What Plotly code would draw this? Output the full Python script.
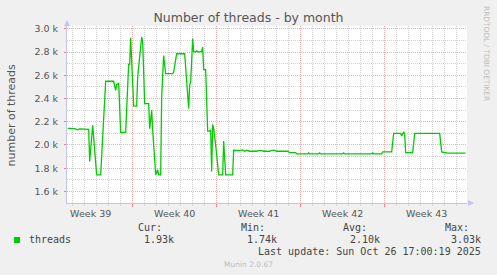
import plotly.graph_objects as go

times = [
    "2025-09-23 14:00", "2025-09-24 04:00", "2025-09-24 10:00", "2025-09-24 14:00",
    "2025-09-25 08:00", "2025-09-25 10:00", "2025-09-25 16:00", "2025-09-25 22:00",
    "2025-09-26 00:00", "2025-09-26 08:00", "2025-09-26 18:00", "2025-09-27 10:00",
    "2025-09-27 14:00", "2025-09-27 16:00", "2025-09-27 20:00", "2025-09-28 00:00",
    "2025-09-28 10:00", "2025-09-28 16:00", "2025-09-28 18:00", "2025-09-28 20:00",
    "2025-09-29 02:00", "2025-09-29 08:00", "2025-09-29 10:00", "2025-09-29 18:00",
    "2025-09-29 20:00", "2025-09-30 00:00", "2025-09-30 08:00", "2025-09-30 10:00",
    "2025-09-30 14:00", "2025-09-30 16:00", "2025-09-30 20:00", "2025-09-30 22:00",
    "2025-10-01 02:00", "2025-10-01 04:00", "2025-10-01 08:00", "2025-10-01 10:00",
    "2025-10-01 14:00", "2025-10-01 18:00", "2025-10-02 08:00", "2025-10-02 10:00",
    "2025-10-02 16:00", "2025-10-03 08:00", "2025-10-03 16:00", "2025-10-03 18:00",
    "2025-10-03 20:00", "2025-10-04 00:00", "2025-10-04 02:00", "2025-10-04 06:00",
    "2025-10-04 08:00", "2025-10-04 12:00", "2025-10-04 18:00", "2025-10-04 20:00",
    "2025-10-04 22:00", "2025-10-05 02:00", "2025-10-05 06:00", "2025-10-05 10:00",
    "2025-10-05 12:00", "2025-10-05 14:00", "2025-10-05 16:00", "2025-10-05 18:00",
    "2025-10-05 22:00", "2025-10-06 04:00", "2025-10-06 12:00", "2025-10-06 14:00",
    "2025-10-06 18:00", "2025-10-07 08:00", "2025-10-07 10:00", "2025-10-07 22:00",
    "2025-10-08 04:00", "2025-10-08 08:00", "2025-10-08 12:00", "2025-10-08 18:00",
    "2025-10-09 08:00", "2025-10-09 12:00", "2025-10-09 18:00", "2025-10-09 22:00",
    "2025-10-10 10:00", "2025-10-10 14:00", "2025-10-10 20:00", "2025-10-11 00:00",
    "2025-10-11 22:00", "2025-10-12 02:00", "2025-10-12 14:00", "2025-10-12 16:00",
    "2025-10-13 14:00", "2025-10-13 16:00", "2025-10-13 18:00", "2025-10-14 12:00",
    "2025-10-14 14:00", "2025-10-14 16:00", "2025-10-16 12:00", "2025-10-16 14:00",
    "2025-10-16 16:00", "2025-10-18 22:00", "2025-10-19 00:00", "2025-10-19 02:00",
    "2025-10-19 18:00", "2025-10-19 20:00", "2025-10-20 14:00", "2025-10-20 18:00",
    "2025-10-21 08:00", "2025-10-21 10:00", "2025-10-21 14:00", "2025-10-21 16:00",
    "2025-10-21 18:00", "2025-10-22 08:00", "2025-10-22 12:00", "2025-10-24 14:00",
    "2025-10-24 18:00", "2025-10-25 04:00", "2025-10-25 06:00", "2025-10-26 18:00",
]
threads = [
    2143, 2140, 2130, 2138,
    2135, 1857, 2170, 1886,
    1743, 1743, 2549, 2549,
    2471, 2520, 2530, 2109,
    2109, 2700, 2690, 2923,
    2334, 2334, 2586, 2930,
    2890, 2357, 2357, 2140,
    2300, 2130, 1800, 1743,
    1786, 1743, 1743, 2414,
    2770, 2614, 2614, 2628,
    2786, 2786, 2314, 2514,
    2543, 2914, 2806, 2800,
    2810, 2800, 2806, 2843,
    2649, 2649, 2120, 2120,
    2130, 1771, 2177, 2143,
    2000, 1743, 1743, 2034,
    1743, 1743, 1954, 1951,
    1957, 1946, 1954, 1946,
    1946, 1951, 1951, 1946,
    1946, 1954, 1954, 1946,
    1946, 1934, 1934, 1923,
    1923, 1931, 1923, 1923,
    1931, 1923, 1923, 1931,
    1923, 1923, 1931, 1923,
    1923, 1940, 1940, 2100,
    2100, 2077, 2114, 2090,
    1934, 1934, 2100, 2100,
    1940, 1934, 1929, 1929,
]

week_labels = ["Week 39", "Week 40", "Week 41", "Week 42", "Week 43"]
week_mids = ["2025-09-25 12:00", "2025-10-02 12:00", "2025-10-09 12:00",
             "2025-10-16 12:00", "2025-10-23 12:00"]
week_starts = ["2025-09-29", "2025-10-06", "2025-10-13", "2025-10-20"]

y_ticks = [1600, 1800, 2000, 2200, 2400, 2600, 2800, 3000]
y_tick_labels = ["1.6\u00a0k", "1.8\u00a0k", "2.0\u00a0k", "2.2\u00a0k",
                 "2.4\u00a0k", "2.6\u00a0k", "2.8\u00a0k", "3.0\u00a0k"]

series_name = "threads"
stat_labels = ["Cur:", "Min:", "Avg:", "Max:"]
stat_values = ["1.93k", "1.74k", "2.10k", "3.03k"]
last_update = "Last update: Sun Oct 26 17:00:19 2025"
title_text = "Number of threads - by month"
ylabel_text = "number of threads"
watermark = "RRDTOOL / TOBI OETIKER"
footer = "Munin 2.0.67"

x_range = ["2025-09-23 12:40", "2025-10-26 20:40"]
y_range = [1500, 3025]

W, H = 497, 275
L, R, T, B = 67, 30, 26, 72
PW, PH = W - L - R, H - T - B

def px(x):
    return (x - L) / PW

def py(y):
    return (H - B - y) / PH

GRID_MINOR = "#d2d2d2"
GRID_MAJOR = "#f2b0b0"
AXIS = "#c4c4f4"
TXT = "#555555"
DASH = "1px,1px"
SANS = "DejaVu Sans"
MONO = "DejaVu Sans Mono"

fig = go.Figure()
fig.add_trace(go.Scatter(x=times, y=threads, mode="lines",
                         line=dict(color="#00cc00", width=1.3),
                         name=series_name, showlegend=False))
fig.add_trace(go.Scatter(x=[x_range[0]], y=[y_range[0]], xaxis="x2",
                         mode="markers", marker=dict(opacity=0),
                         showlegend=False, hoverinfo="skip"))

fig.update_layout(
    width=W, height=H, autosize=False,
    margin=dict(l=L, r=R, t=T, b=B, pad=0),
    paper_bgcolor="#f0f0f0", plot_bgcolor="#ffffff",
    font=dict(family=SANS, size=9.5, color=TXT),
    title=dict(text=title_text, x=0.5, xanchor="center", xref="container",
               y=1 - 18.0 / H, yanchor="middle", yref="container",
               font=dict(family=SANS, size=12.5, color=TXT)),
    xaxis=dict(type="date", range=x_range, tickmode="array",
               tickvals=week_mids, ticktext=week_labels,
               showgrid=False, zeroline=False, ticks="",
               showline=True, linecolor=AXIS, linewidth=1,
               ticklabelstandoff=2,
               tickfont=dict(family=SANS, size=9.5, color=TXT),
               minor=dict(tick0="2025-09-22", dtick=86400000, showgrid=True,
                          gridcolor=GRID_MINOR, griddash=DASH, gridwidth=1,
                          ticks="outside", ticklen=2, tickcolor=GRID_MINOR)),
    xaxis2=dict(type="date", range=x_range, overlaying="x", side="bottom",
                tickmode="array", tickvals=week_starts, showticklabels=False,
                showgrid=True, gridcolor=GRID_MAJOR, griddash=DASH, gridwidth=1,
                ticks="outside", ticklen=3, tickcolor="#f08080",
                zeroline=False, showline=False),
    yaxis=dict(range=y_range, tickmode="array", tickvals=y_ticks,
               ticktext=y_tick_labels, showgrid=True, gridcolor=GRID_MAJOR,
               griddash=DASH, gridwidth=1, zeroline=False,
               showline=True, linecolor=AXIS, linewidth=1,
               ticks="outside", ticklen=2, tickcolor="#f08080",
               ticklabelstandoff=4,
               tickfont=dict(family=SANS, size=9.5, color=TXT),
               minor=dict(dtick=100, tick0=1500, showgrid=True,
                          gridcolor=GRID_MINOR, griddash=DASH, gridwidth=1)),
)

ann = []
# y axis label
ann.append(dict(text=ylabel_text, x=px(11), y=py(114.5), xref="paper", yref="paper",
                showarrow=False, textangle=-90, xanchor="center", yanchor="middle",
                font=dict(family=SANS, size=11, color=TXT)))
# watermark
ann.append(dict(text=watermark, x=px(487), y=py(53), xref="paper", yref="paper",
                showarrow=False, textangle=90, xanchor="center", yanchor="middle",
                font=dict(family=SANS, size=7.4, color="#bdbdbd")))
# axis arrows
ann.append(dict(text="", x=px(474), y=py(203), xref="paper", yref="paper",
                ax=-7, ay=0, axref="pixel", ayref="pixel", showarrow=True,
                arrowhead=2, arrowsize=1.2, arrowwidth=1, arrowcolor=AXIS))
ann.append(dict(text="", x=px(67), y=py(20), xref="paper", yref="paper",
                ax=0, ay=6, axref="pixel", ayref="pixel", showarrow=True,
                arrowhead=2, arrowsize=1.2, arrowwidth=1, arrowcolor=AXIS))
# legend text
mono = dict(family=MONO, size=10, color="#444444")
ann.append(dict(text=series_name, x=px(26.5), y=py(239.5), xref="paper", yref="paper",
                showarrow=False, xanchor="left", yanchor="middle", font=mono))
label_right = [163.5, 266.5, 368.5, 470.5]
value_right = [176, 279, 381.5, 483]
for lab, val, lr, vr in zip(stat_labels, stat_values, label_right, value_right):
    ann.append(dict(text=lab, x=px(lr), y=py(227.5), xref="paper", yref="paper",
                    showarrow=False, xanchor="right", yanchor="middle", font=mono))
    ann.append(dict(text=val, x=px(vr), y=py(239.5), xref="paper", yref="paper",
                    showarrow=False, xanchor="right", yanchor="middle", font=mono))
ann.append(dict(text=last_update, x=px(483), y=py(251.7), xref="paper", yref="paper",
                showarrow=False, xanchor="right", yanchor="middle", font=mono))
ann.append(dict(text=footer, x=px(248), y=py(264), xref="paper", yref="paper",
                showarrow=False, xanchor="center", yanchor="middle",
                font=dict(family=SANS, size=7.5, color="#bdbdbd")))
fig.update_layout(annotations=ann)

# legend colour swatch
fig.add_shape(type="rect", xref="paper", yref="paper",
              x0=px(14), x1=px(20), y0=py(243), y1=py(237),
              fillcolor="#00cc00", line=dict(width=0))

fig.write_html("out.html")
